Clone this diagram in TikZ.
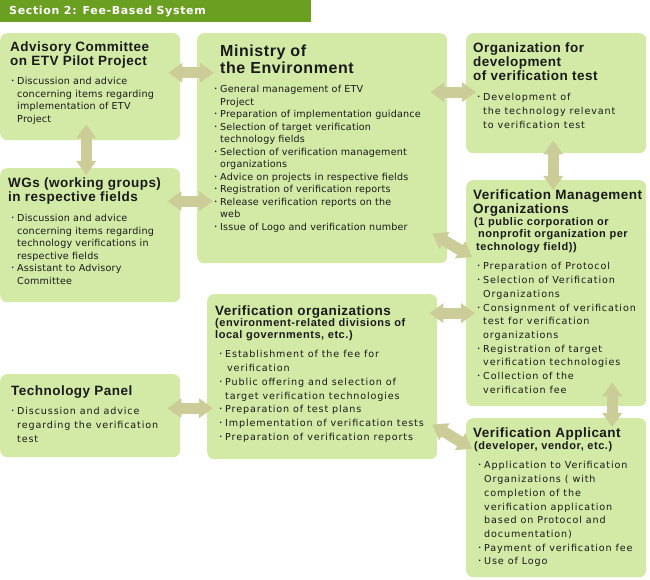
\documentclass[tikz,border=0pt]{standalone}
\usepackage{fontspec}
\usetikzlibrary{arrows.meta}
\setmainfont{DejaVu Sans}
\newfontfamily\bodyfont[LetterSpace=2]{DejaVu Sans}
\newfontfamily\widefont[LetterSpace=9]{DejaVu Sans}
\newfontfamily\bandfont[LetterSpace=6]{DejaVu Sans Bold}
\newfontfamily\titlefont[LetterSpace=3.5]{Liberation Sans Bold}
\newfontfamily\subfont[LetterSpace=5]{Liberation Sans Bold}
\newfontfamily\cjk{Noto Sans CJK JP}
\definecolor{leaf}{HTML}{D2EAA5}
\definecolor{band}{HTML}{6B9F22}
\definecolor{khaki}{HTML}{CCCC99}
\definecolor{ink}{HTML}{1A1A1A}
\def\bul{\leavevmode\llap{{\cjk ･}\hspace*{2pt}}}
\begin{document}
\begin{tikzpicture}[x=1pt,y=-1pt,
panel/.style={shape=rectangle,fill=leaf,rounded corners=7pt,anchor=north west,inner sep=0pt},
headline/.style={anchor=north west,inner sep=0pt,align=left,text=ink,font=\titlefont\fontsize{13.5}{14}\selectfont},
subline/.style={headline,font=\subfont\fontsize{11}{12.2}\selectfont},
duties/.style={anchor=north west,inner sep=0pt,align=left,text=ink,font=\bodyfont\fontsize{9.6}{12.5}\selectfont},
dutiesW/.style={duties,font=\widefont\fontsize{9.6}{13.7}\selectfont},
twoway/.style={draw=khaki,line width=11pt,{Triangle[length=14pt,width=19pt]}-{Triangle[length=14pt,width=19pt]}}]
\useasboundingbox (0,0) rectangle (650,580);

\node[panel,fill=band,rounded corners=0pt,minimum width=311pt,minimum height=22pt] (band) at (0,0) {};
\node[headline,text=white,font=\bandfont\fontsize{11}{12}\selectfont] (bandT) at (9,5.5) {Section 2: Fee-Based System};

\node[panel,minimum width=180pt,minimum height=107pt] (adv) at (0,33) {};
\node[panel,minimum width=180pt,minimum height=134pt] (wg) at (0,168) {};
\node[panel,minimum width=180pt,minimum height=83pt] (tech) at (0,374) {};
\node[panel,minimum width=250pt,minimum height=230pt] (env) at (197,33) {};
\node[panel,minimum width=180pt,minimum height=120pt] (dev) at (466,33) {};
\node[panel,minimum width=180pt,minimum height=226pt] (mgmt) at (466,180) {};
\node[panel,minimum width=230pt,minimum height=165pt] (org) at (207,294) {};
\node[panel,minimum width=180pt,minimum height=159pt] (appl) at (466,418) {};

\draw[twoway,shorten <=-12pt,shorten >=-17pt] ([yshift=14pt]adv.east) -- ([yshift=75.5pt]env.west);
\draw[twoway,shorten <=-16pt,shorten >=-7pt] ([xshift=-4pt]adv.south) -- ([xshift=-4pt]wg.north);
\draw[twoway,shorten <=-13pt,shorten >=-16pt] ([yshift=34pt]wg.east) -- ([yshift=-53pt]env.west);
\draw[twoway,shorten <=-17pt,shorten >=-10pt] ([yshift=56pt]env.east) -- ([yshift=1pt]dev.west);
\draw[twoway,shorten <=-13pt,shorten >=-10pt] ([xshift=-3pt]dev.south) -- ([xshift=-3pt]mgmt.north);
\draw[twoway] ([shift={(-15,-30)}]env.south east) -- ([shift={(6,77)}]mgmt.north west);
\draw[twoway,shorten <=-8pt,shorten >=-9pt] ([yshift=63.5pt]org.east) -- ([yshift=-20pt]mgmt.west);
\draw[twoway,shorten <=-13pt,shorten >=-6pt] ([yshift=7.5pt]tech.east) -- ([yshift=-31.5pt]org.west);
\draw[twoway] ([shift={(-5,-35)}]org.south east) -- ([shift={(6,31)}]appl.north west);
\draw[twoway,shorten <=-24pt,shorten >=-9pt] ([xshift=56pt]mgmt.south) -- ([xshift=56pt]appl.north);

% committee and working groups
\node[headline] (advT) at (10,42) {Advisory Committee\\on ETV Pilot Project};
\node[duties] (advB) at (17,77.5) {\bul Discussion and advice\\concerning items regarding\\implementation of ETV\\Project};
\node[headline] (wgT) at (8,178) {WGs (working groups)\\in respective fields};
\node[duties] (wgB) at (17,214.5) {\bul Discussion and advice\\concerning items regarding\\technology verifications in\\respective fields\\\bul Assistant to Advisory\\Committee};
\node[headline] (techT) at (11,386) {Technology Panel};
\node[dutiesW] (techB) at (17,407.5) {\bul Discussion and advice\\regarding the verification\\test};

% ministry
\node[headline,font=\titlefont\fontsize{16}{17}\selectfont] (envT) at (220,45) {Ministry of\\the Environment};
\node[duties] (envB) at (220,85.5) {\bul General management of ETV\\Project\\\bul Preparation of implementation guidance\\\bul Selection of target verification\\technology fields\\\bul Selection of verification management\\organizations\\\bul Advice on projects in respective fields\\\bul Registration of verification reports\\\bul Release verification reports on the\\web\\\bul Issue of Logo and verification number};

% right column
\node[headline] (devT) at (473,43) {Organization for\\development\\of verification test};
\node[dutiesW] (devB) at (483,93.5) {\bul Development of\\the technology relevant\\to verification test};
\node[headline] (mgmtT) at (473,190) {Verification Management\\Organizations};
\node[subline] (mgmtS) at (474,217.5) {(1 public corporation or\\\hspace*{4pt}nonprofit organization per\\\hspace*{2pt}technology field))};
\node[dutiesW] (mgmtB) at (483,262.5) {\bul Preparation of Protocol\\\bul Selection of Verification\\Organizations\\\bul Consignment of verification\\test for verification\\organizations\\\bul Registration of target\\verification technologies\\\bul Collection of the\\verification fee};
\node[headline] (orgT) at (215,306) {Verification organizations};
\node[subline] (orgS) at (215,318.5) {(environment-related divisions of\\local governments, etc.)};
\node[dutiesW] (orgB) at (225,350.5) {\bul Establishment of the fee for\\\hspace*{2pt}verification\\\bul Public offering and selection of\\target verification technologies\\\bul Preparation of test plans\\\bul Implementation of verification tests\\\bul Preparation of verification reports};
\node[headline] (applT) at (473,428) {Verification Applicant};
\node[subline] (applS) at (474,441.5) {(developer, vendor, etc.)};
\node[dutiesW] (applB) at (484,461.5) {\bul Application to Verification\\Organizations ( with\\completion of the\\verification application\\based on Protocol and\\documentation)\\\bul Payment of verification fee\\\bul Use of Logo};
\end{tikzpicture}
\end{document}
